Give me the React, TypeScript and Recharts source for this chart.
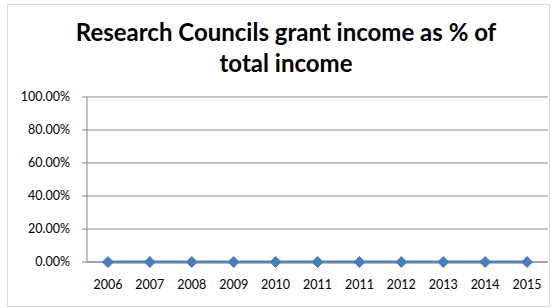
import { LineChart, Line, XAxis, YAxis, CartesianGrid } from 'recharts';

const years = ['2006', '2007', '2008', '2009', '2010', '2011', '2011', '2012', '2013', '2014', '2015'];
const shares = [0, 0, 0, 0, 0, 0, 0, 0, 0, 0, 0];
const yTicks = [0, 0.2, 0.4, 0.6, 0.8, 1];

const data = years.map((year, i) => ({ idx: i, year, share: shares[i] }));
const catTicks = years.map((_, i) => i);
const sepTicks = [...years.map((_, i) => i - 0.5), years.length - 0.5];

const tickFont = { fontFamily: 'Lato, sans-serif', fontSize: 12.5, fill: '#000' };

// Excel-style diamond marker
const Diamond = (props: any) => {
  const { cx, cy, index } = props;
  if (cx == null || cy == null) return <g key={index} />;
  const s = 5.5;
  return (
    <polygon
      key={index}
      points={`${cx},${cy - s} ${cx + s},${cy} ${cx},${cy + s} ${cx - s},${cy}`}
      fill="#4a7ebb"
      stroke="#4a7ebb"
      strokeWidth={1}
    />
  );
};

export default function App() {
  return (
    <div
      style={{
        position: 'absolute',
        left: 7,
        top: 4,
        width: 541,
        height: 301,
        border: '1px solid #d9d9d9',
        background: '#fff',
      }}
    >
      <div
        style={{
          position: 'absolute',
          left: 0,
          top: 11,
          width: 556,
          textAlign: 'center',
          fontFamily: 'Lato, sans-serif',
          fontWeight: 'bold',
          fontSize: 24,
          lineHeight: '31px',
          color: '#000',
        }}
      >
        Research Councils grant income as % of
        <br />
        total income
      </div>
      <LineChart width={541} height={301} data={data} margin={{ top: 92, right: 1, bottom: 14, left: 0 }}>
        <CartesianGrid vertical={false} stroke="#868686" />
        <XAxis
          xAxisId="sep"
          type="number"
          dataKey="idx"
          domain={[-0.5, years.length - 0.5]}
          ticks={sepTicks}
          tickFormatter={() => ''}
          height={0}
          tickSize={4}
          stroke="#868686"
          axisLine={false}
        />
        <XAxis
          type="number"
          dataKey="idx"
          domain={[-0.5, years.length - 0.5]}
          ticks={catTicks}
          tickFormatter={(v: number) => years[v]}
          tickLine={false}
          stroke="#868686"
          tick={tickFont}
          tickMargin={12}
          height={30}
          interval={0}
        />
        <YAxis
          domain={[0, 1]}
          ticks={yTicks}
          tickFormatter={(v: number) => (v * 100).toFixed(2) + '%'}
          width={79}
          tickSize={5}
          stroke="#868686"
          tick={tickFont}
          tickMargin={12}
        />
        <Line
          dataKey="share"
          stroke="#4a7ebb"
          strokeWidth={3}
          dot={Diamond}
          isAnimationActive={false}
        />
      </LineChart>
    </div>
  );
}
